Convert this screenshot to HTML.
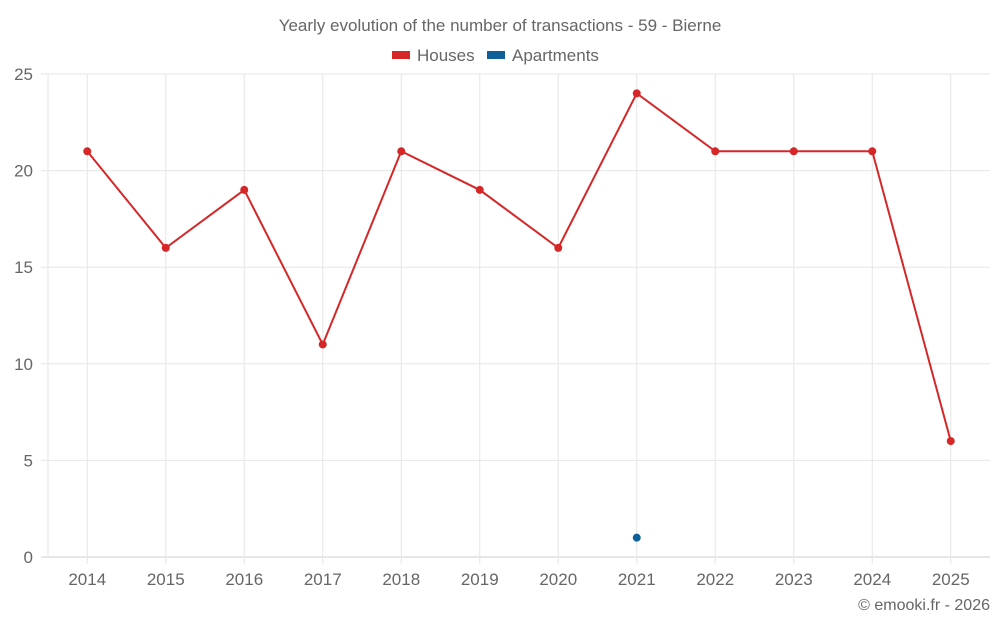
<!DOCTYPE html>
<html><head><meta charset="utf-8"><style>
body{margin:0;background:#fff;font-family:"Liberation Sans",sans-serif}
svg text{font-family:"Liberation Sans",sans-serif}
</style></head><body>
<svg id="c" width="1000" height="625" xmlns="http://www.w3.org/2000/svg">
<text x="500" y="31" text-anchor="middle" font-size="17" fill="#666">Yearly evolution of the number of transactions - 59 - Bierne</text>
<g><rect x="392" y="51" width="18" height="8" fill="#d62728"/><text x="417" y="61" font-size="17" fill="#666">Houses</text></g>
<g><rect x="487" y="51" width="18" height="8" fill="#0e6198"/><text x="512" y="61" font-size="17" fill="#666">Apartments</text></g>
<g id="grid"></g><g id="axes"></g><g id="marks"></g>
<text x="990" y="610" text-anchor="end" font-size="16" fill="#666">© emooki.fr - 2026</text>
</svg>
<script>
const years=["2014","2015","2016","2017","2018","2019","2020","2021","2022","2023","2024","2025"];
const houses=[21,16,19,11,21,19,16,24,21,21,21,6];
const apartments=[null,null,null,null,null,null,null,1,null,null,null,null];
const yTicks=[0,5,10,15,20,25];
const L=48,R=990,T=74,B=557,yMax=25;
const bw=(R-L)/years.length;
const x=i=>L+bw*(i+0.5);
const y=v=>B-(v/yMax)*(B-T);
const NS="http://www.w3.org/2000/svg";
function mk(tag,attrs,parent){const e=document.createElementNS(NS,tag);for(const k in attrs)e.setAttribute(k,attrs[k]);document.getElementById(parent).appendChild(e);return e;}
yTicks.forEach(t=>{
 const g=mk('line',{x1:41,x2:R,y1:y(t),y2:y(t),stroke:t===0?'#ccc':'#e6e6e6','stroke-width':1},'grid');
 
 
 const tx=mk('text',{x:33,y:y(t)+6,'text-anchor':'end','font-size':17,fill:'#666'},'axes');
 tx.textContent=t;
 
 
});
const ax=mk('line',{x1:L,x2:L,y1:T,y2:B,stroke:'#e6e6e6'},'grid');


years.forEach((yr,i)=>{
 const g=mk('line',{x1:x(i),x2:x(i),y1:T,y2:B+7,stroke:'#e6e6e6'},'grid');
 
 
 const tx=mk('text',{x:x(i),y:585,'text-anchor':'middle','font-size':17,fill:'#666'},'axes');
 tx.textContent=yr;
 
 
});
const pts=houses.map((v,i)=>v==null?null:x(i)+','+y(v)).filter(p=>p).join(' ');
const pl=mk('polyline',{points:pts,fill:'none',stroke:'#d62728','stroke-width':2},'marks');


houses.forEach((v,i)=>{if(v==null)return;
 const c=mk('circle',{cx:x(i),cy:y(v),r:4,fill:'#d62728'},'marks');
 
 
});
apartments.forEach((v,i)=>{if(v==null)return;
 const c=mk('circle',{cx:x(i),cy:y(v),r:4,fill:'#0e6198'},'marks');
 
 
});
</script>
</body></html>
